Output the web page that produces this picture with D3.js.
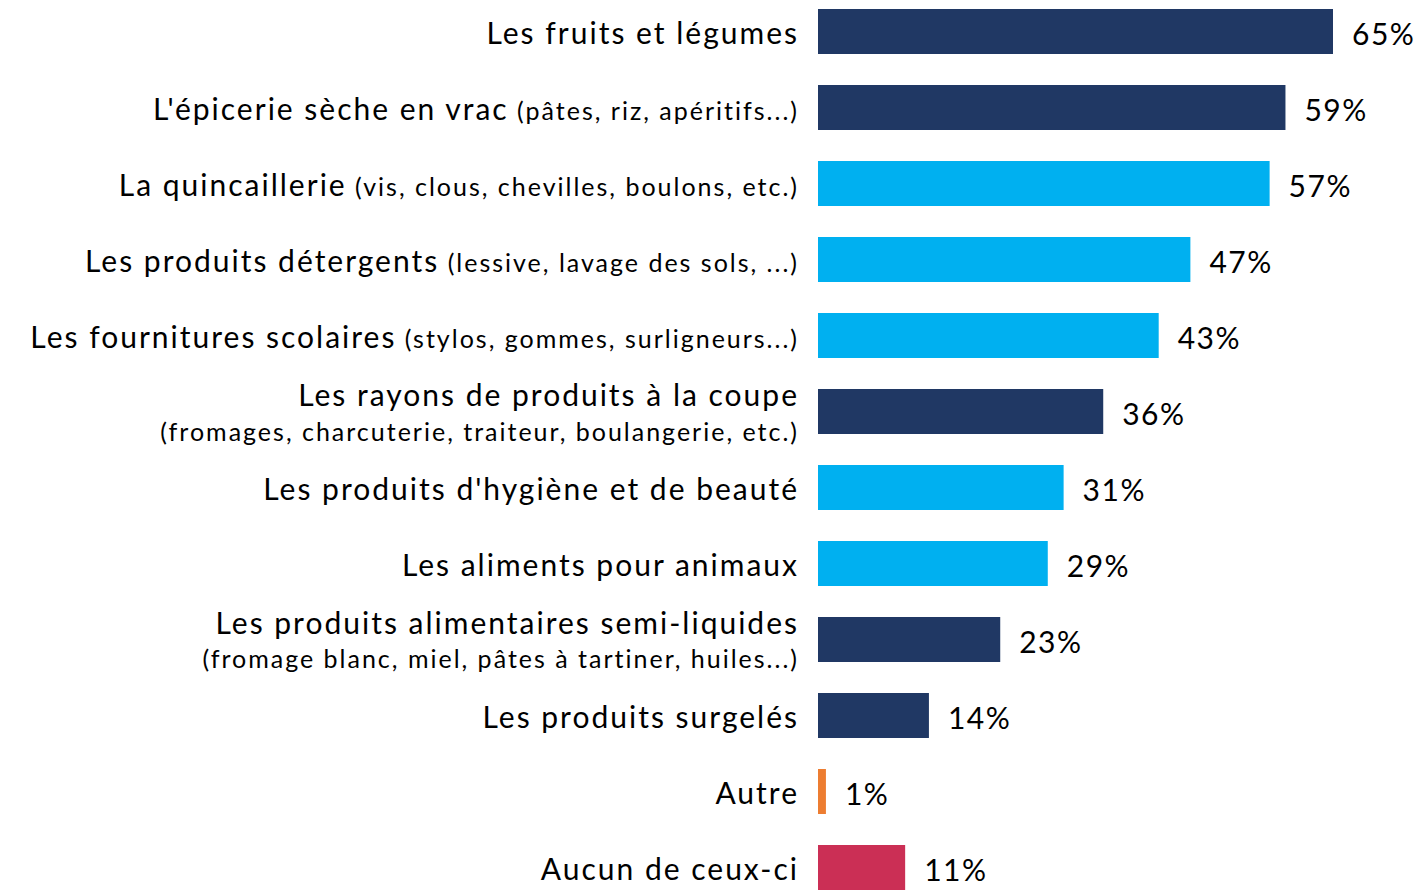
<!DOCTYPE html>
<html>
<head>
<meta charset="utf-8">
<script src="https://cdn.jsdelivr.net/npm/d3@7"></script>
<style>
  body { margin: 0; background: #fff; }
  text { font-family: Lato, "Open Sans", sans-serif; fill: #000; letter-spacing: 2px; }
</style>
</head>
<body>
<script>
"use strict";

// data
const labels = [
  "Les fruits et légumes",
  "L'épicerie sèche en vrac",
  "La quincaillerie",
  "Les produits détergents",
  "Les fournitures scolaires",
  "Les rayons de produits à la coupe",
  "Les produits d'hygiène et de beauté",
  "Les aliments pour animaux",
  "Les produits alimentaires semi-liquides",
  "Les produits surgelés",
  "Autre",
  "Aucun de ceux-ci"
];
// parenthetical part, either on the same line or on a second line
const details = [
  "",
  "(pâtes, riz, apéritifs...)",
  "(vis, clous, chevilles, boulons, etc.)",
  "(lessive, lavage des sols, ...)",
  "(stylos, gommes, surligneurs...)",
  "(fromages, charcuterie, traiteur, boulangerie, etc.)",
  "",
  "",
  "(fromage blanc, miel, pâtes à tartiner, huiles...)",
  "",
  "",
  ""
];
const detailBelow = [false, false, false, false, false, true, false, false, true, false, false, false];
const values = [65, 59, 57, 47, 43, 36, 31, 29, 23, 14, 1, 11];
const groups = ["food", "food", "other", "other", "other", "food", "other", "other", "food", "food", "autre", "aucun"];

const width = 1422;
const height = 894;

let color = d3.scaleOrdinal()
    .domain(["food", "other", "autre", "aucun"])
    .range(["#203864", "#00B0F0", "#ED7D31", "#CB2F55"]);

let x = d3.scaleLinear()
    .domain([0, 65])
    .range([818, 1333]);

let y = d3.scaleBand()
    .domain(d3.range(labels.length))
    .range([-22, 921])
    .padding(0.408);

let svg = d3.select("body").append("svg")
    .attr("width", width)
    .attr("height", height);

// bars
svg.selectAll("rect.bar")
    .data(values)
    .enter()
    .append("rect")
    .attr("class", "bar")
    .attr("x", x(0))
    .attr("y", (d, i) => y(i))
    .attr("width", d => x(d) - x(0))
    .attr("height", y.bandwidth())
    .style("fill", (d, i) => color(groups[i]));

// value labels
svg.selectAll("text.val")
    .data(values)
    .enter()
    .append("text")
    .attr("class", "val")
    .attr("x", d => x(d) + 19)
    .attr("y", (d, i) => y(i) + y.bandwidth() / 2 + 3)
    .attr("dy", "0.36em")
    .style("font-size", "30px")
    .style("letter-spacing", "1.5px")
    .text(d => d + "%");

// category labels
const labelRight = 799;
labels.forEach((lab, i) => {
    let cy = y(i) + y.bandwidth() / 2 + 2;
    if (detailBelow[i]) {
        svg.append("text")
            .attr("x", labelRight)
            .attr("y", cy - 18)
            .attr("dy", "0.36em")
            .attr("text-anchor", "end")
            .style("font-size", "30px")
            .text(lab);
        svg.append("text")
            .attr("x", labelRight)
            .attr("y", cy + 18)
            .attr("dy", "0.36em")
            .attr("text-anchor", "end")
            .style("font-size", "25px")
            .text(details[i]);
    } else {
        let t = svg.append("text")
            .attr("x", labelRight)
            .attr("y", cy)
            .attr("dy", "0.36em")
            .attr("text-anchor", "end")
            .style("font-size", "30px");
        t.append("tspan").text(lab);
        if (details[i]) {
            t.append("tspan").style("font-size", "25px").text(" " + details[i]);
        }
    }
});
</script>
</body>
</html>
